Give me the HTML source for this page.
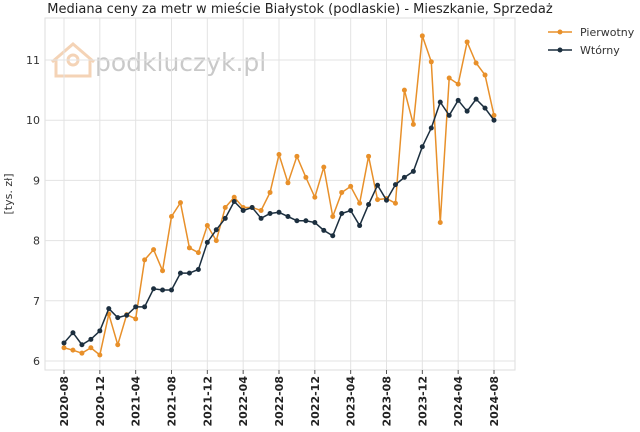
<!DOCTYPE html>
<html><head><meta charset="utf-8"><style>
body{margin:0;background:#fff;font-family:"Liberation Sans","DejaVu Sans",sans-serif}
</style></head><body>
<svg id="c" width="640" height="427" xmlns="http://www.w3.org/2000/svg">
<text x="300" y="13" text-anchor="middle" font-size="13" fill="#222" font-family="DejaVu Sans,sans-serif">Mediana ceny za metr w mieście Białystok (podlaskie) - Mieszkanie, Sprzedaż</text>
<text transform="translate(12,194) rotate(-90)" text-anchor="middle" font-size="11" fill="#333" font-family="DejaVu Sans,sans-serif">[tys. zł]</text>
<g opacity="0.45">
<path d="M52 62 L73 44 L94 62 M56 58 L56 76 L90 76 L90 58" fill="none" stroke="#e8a060" stroke-width="3"/>
<circle cx="73" cy="60" r="5" fill="none" stroke="#e8a060" stroke-width="3"/>
<text x="95" y="71" font-size="25" fill="#888" font-family="DejaVu Sans,sans-serif">podkluczyk.pl</text>
</g>
<g id="grid"></g><g id="marks"></g>
<g>
<line x1="548" y1="32" x2="572" y2="32" stroke="#e8902a" stroke-width="1.5"/><circle cx="560" cy="32" r="2.5" fill="#e8902a"/>
<text x="580" y="36" font-size="11" fill="#333" font-family="DejaVu Sans,sans-serif">Pierwotny</text>
<line x1="548" y1="50" x2="572" y2="50" stroke="#1c2f3f" stroke-width="1.5"/><circle cx="560" cy="50" r="2.5" fill="#1c2f3f"/>
<text x="580" y="54" font-size="11" fill="#333" font-family="DejaVu Sans,sans-serif">Wtórny</text>
</g>
</svg>
<script>
const primary=[6.22,6.18,6.13,6.22,6.1,6.78,6.27,6.77,6.7,7.68,7.85,7.5,8.4,8.63,7.88,7.8,8.25,8.0,8.55,8.72,8.55,8.55,8.5,8.8,9.43,8.96,9.4,9.05,8.72,9.22,8.4,8.8,8.9,8.62,9.4,8.68,8.7,8.62,10.5,9.93,11.4,10.97,8.3,10.7,10.6,11.3,10.95,10.75,10.08];
const secondary=[6.3,6.47,6.27,6.36,6.5,6.87,6.72,6.76,6.9,6.9,7.2,7.18,7.18,7.46,7.46,7.52,7.97,8.18,8.37,8.65,8.5,8.55,8.37,8.45,8.47,8.4,8.33,8.33,8.3,8.17,8.08,8.45,8.5,8.25,8.6,8.92,8.67,8.93,9.05,9.15,9.56,9.87,10.3,10.08,10.33,10.15,10.35,10.2,10.0];
const yTicks=[6,7,8,9,10,11];
const xTickLabels=["2020-08","2020-12","2021-04","2021-08","2021-12","2022-04","2022-08","2022-12","2023-04","2023-08","2023-12","2024-04","2024-08"];
const NS="http://www.w3.org/2000/svg";
const L=45,R=515,T=18,B=370;
const xs=i=>64+i*(494-64)/48;
const ys=v=>361-(v-6)*60.2;
function mk(t,a,p){const e=document.createElementNS(NS,t);for(const k in a)e.setAttribute(k,a[k]);p.appendChild(e);return e;}
const g=document.getElementById('grid'),m=document.getElementById('marks');
mk('rect',{x:L,y:T,width:R-L,height:B-T,fill:'none',stroke:'#ddd'},g);
yTicks.forEach(v=>{
 mk('line',{x1:L,x2:R,y1:ys(v),y2:ys(v),stroke:'#e3e3e3'},g);
 const t=mk('text',{x:L-5,y:ys(v)+4,'text-anchor':'end','font-size':11,fill:'#333','font-family':'DejaVu Sans,sans-serif'},g);
 
 
 t.textContent=v;
});
xTickLabels.forEach((lb,j)=>{
 const x=xs(j*4);
 mk('line',{x1:x,x2:x,y1:T,y2:B,stroke:'#e3e3e3'},g);
 mk('line',{x1:x,x2:x,y1:B,y2:B+4,stroke:'#555'},g);
 const t=mk('text',{transform:`translate(${x+4},${B+6}) rotate(-90)`,'text-anchor':'end','font-size':11,'font-weight':'bold',fill:'#222','font-family':'DejaVu Sans,sans-serif'},g);
 
 
 t.textContent=lb;
});
function series(d,col,name){
 const p=mk('polyline',{points:d.map((v,i)=>xs(i)+','+ys(v)).join(' '),fill:'none',stroke:col,'stroke-width':1.5},m);
 
 
 d.forEach((v,i)=>{const c=mk('circle',{cx:xs(i),cy:ys(v),r:2.5,fill:col},m);
 
 });
}
series(primary,'#e8902a','pierwotny');
series(secondary,'#1c2f3f','wtorny');
</script>
</body></html>
